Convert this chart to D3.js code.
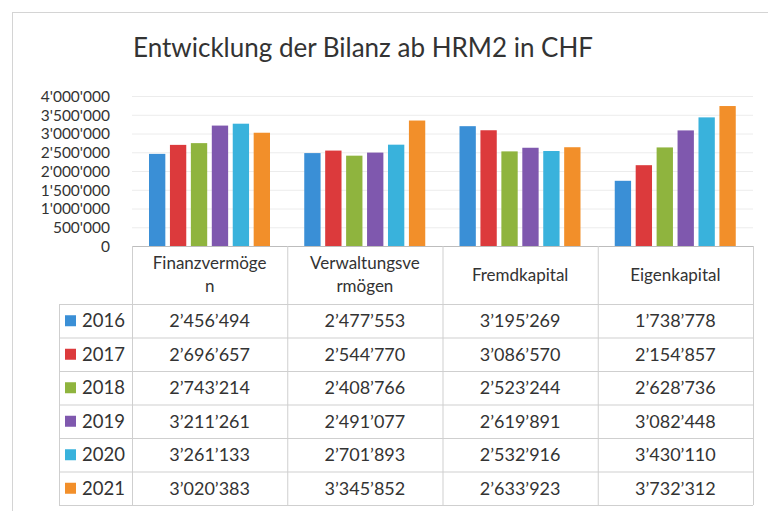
<!DOCTYPE html>
<html>
<head>
<meta charset="utf-8">
<script src="https://cdn.jsdelivr.net/npm/d3@7"></script>
<style>
  body { margin: 0; background: #fff; }
  text { font-family: Lato, "Open Sans", sans-serif; fill: #333; }
</style>
</head>
<body>
<svg id="chart"></svg>
<script>
// Daten der Bilanz (CHF)
const categories = ["Finanzvermögen", "Verwaltungsvermögen", "Fremdkapital", "Eigenkapital"];
const years = ["2016", "2017", "2018", "2019", "2020", "2021"];
const values2016 = [2456494, 2477553, 3195269, 1738778];
const values2017 = [2696657, 2544770, 3086570, 2154857];
const values2018 = [2743214, 2408766, 2523244, 2628736];
const values2019 = [3211261, 2491077, 2619891, 3082448];
const values2020 = [3261133, 2701893, 2532916, 3430110];
const values2021 = [3020383, 3345852, 2633923, 3732312];
const yTicks = [0, 500000, 1000000, 1500000, 2000000, 2500000, 3000000, 3500000, 4000000];
const colors = ["#3a8fd6", "#dc3a3c", "#8fb43e", "#7f58ae", "#39b2dc", "#f28f2a"];

const series = [values2016, values2017, values2018, values2019, values2020, values2021];

const width = 768;
const height = 511;

const svg = d3.select("#chart")
    .attr("width", width)
    .attr("height", height);

// Rahmen des Diagrammbereichs
svg.append("rect")
    .attr("x", 12.5)
    .attr("y", 12.5)
    .attr("width", 800)
    .attr("height", 600)
    .attr("fill", "none")
    .attr("stroke", "#d4d4d4");

// Titel
svg.append("text")
    .attr("x", 363)
    .attr("y", 57)
    .attr("text-anchor", "middle")
    .attr("font-size", 26)
    .text("Entwicklung der Bilanz ab HRM2 in CHF");

// Skalen
const x0 = d3.scaleBand()
    .domain(categories)
    .range([132, 753]);

const x1 = d3.scaleBand()
    .domain(years)
    .range([17, 138])
    .paddingInner(0.22);

const y = d3.scaleLinear()
    .domain([0, 4000000])
    .range([246, 96]);

const axisFormat = d3.formatLocale({ decimal: ".", thousands: "'", grouping: [3], currency: ["", ""] }).format(",d");
const tableFormat = d3.formatLocale({ decimal: ".", thousands: "\u2019", grouping: [3], currency: ["", ""] }).format(",d");

// Gitternetzlinien
svg.append("g")
    .selectAll("line")
    .data(yTicks.slice(1))
    .enter().append("line")
    .attr("x1", 132)
    .attr("x2", 753)
    .attr("y1", d => y(d) + 0.5)
    .attr("y2", d => y(d) + 0.5)
    .attr("stroke", "#ececec");

// Y-Achse
const yAxis = svg.append("g")
    .attr("transform", "translate(110,0)")
    .call(d3.axisLeft(y).tickValues(yTicks).tickFormat(axisFormat).tickSize(0).tickPadding(0));

yAxis.select(".domain").remove();
yAxis.selectAll("text")
    .attr("font-size", 15.5)
    .attr("fill", "#333")
    .attr("dy", "0.35em");

// Balken
const groups = svg.append("g")
    .selectAll("g")
    .data(categories)
    .enter().append("g")
    .attr("transform", d => `translate(${x0(d)},0)`);

groups.selectAll("rect")
    .data((d, ci) => years.map((yr, si) => ({ year: yr, value: series[si][ci], color: colors[si] })))
    .enter().append("rect")
    .attr("x", d => x1(d.year))
    .attr("y", d => y(d.value))
    .attr("width", x1.bandwidth())
    .attr("height", d => y(0) - y(d.value))
    .attr("fill", d => d.color);

// Datentabelle
const tableTop = 246;
const headerBottom = 304;
const rowHeight = (505 - headerBottom) / years.length;
const legendLeft = 59;
const tableRight = 753;
const lineColor = "#cfcfcf";

const table = svg.append("g");

// horizontale Linien
table.append("line")
    .attr("x1", 132).attr("x2", tableRight)
    .attr("y1", tableTop + 0.5).attr("y2", tableTop + 0.5)
    .attr("stroke", "#bdbdbd");

table.selectAll("line.row")
    .data(d3.range(years.length + 1))
    .enter().append("line")
    .attr("class", "row")
    .attr("x1", legendLeft).attr("x2", tableRight)
    .attr("y1", i => headerBottom + i * rowHeight + 0.5)
    .attr("y2", i => headerBottom + i * rowHeight + 0.5)
    .attr("stroke", lineColor);

// vertikale Linien
table.append("line")
    .attr("x1", legendLeft + 0.5).attr("x2", legendLeft + 0.5)
    .attr("y1", headerBottom).attr("y2", 505)
    .attr("stroke", lineColor);

table.selectAll("line.col")
    .data(categories.map(c => x0(c)).concat([tableRight]))
    .enter().append("line")
    .attr("class", "col")
    .attr("x1", d => d + 0.5).attr("x2", d => d + 0.5)
    .attr("y1", tableTop).attr("y2", 505)
    .attr("stroke", lineColor);

// Kopfzeile mit Umbruch nach 13 Zeichen
function wrapLabel(label) {
    const lines = [];
    for (let i = 0; i < label.length; i += 13) lines.push(label.slice(i, i + 13));
    return lines;
}

categories.forEach(cat => {
    const lines = wrapLabel(cat);
    const cy = (tableTop + headerBottom) / 2;
    const lh = 23;
    lines.forEach((ln, i) => {
        table.append("text")
            .attr("x", x0(cat) + x0.bandwidth() / 2)
            .attr("y", cy + (i - (lines.length - 1) / 2) * lh)
            .attr("dy", "0.35em")
            .attr("text-anchor", "middle")
            .attr("font-size", 17)
            .text(ln);
    });
});

// Zeilen: Legende + Werte
years.forEach((yr, si) => {
    const cy = headerBottom + si * rowHeight + rowHeight / 2;

    table.append("rect")
        .attr("x", 65)
        .attr("y", cy - 5.5)
        .attr("width", 11)
        .attr("height", 11)
        .attr("fill", colors[si]);

    table.append("text")
        .attr("x", 82)
        .attr("y", cy)
        .attr("dy", "0.35em")
        .attr("font-size", 18.5)
        .text(yr);

    categories.forEach((cat, ci) => {
        table.append("text")
            .attr("x", x0(cat) + x0.bandwidth() / 2)
            .attr("y", cy)
            .attr("dy", "0.35em")
            .attr("text-anchor", "middle")
            .attr("font-size", 18)
            .text(tableFormat(series[si][ci]));
    });
});
</script>
</body>
</html>
